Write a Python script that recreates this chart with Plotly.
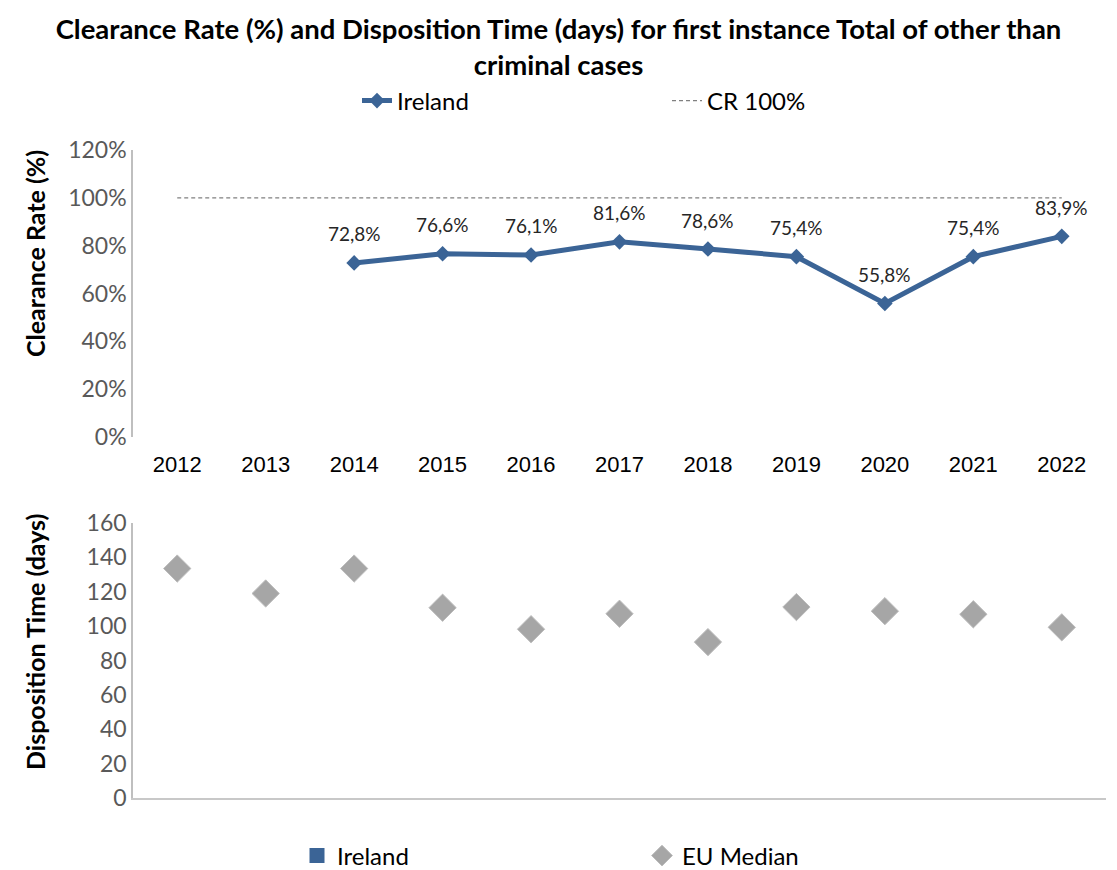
import plotly.graph_objects as go

years = ["2012", "2013", "2014", "2015", "2016", "2017", "2018", "2019", "2020", "2021", "2022"]
ireland_cr = [None, None, 0.728, 0.766, 0.761, 0.816, 0.786, 0.754, 0.558, 0.754, 0.839]
ireland_cr_labels = ["", "", "72,8%", "76,6%", "76,1%", "81,6%", "78,6%", "75,4%", "55,8%", "75,4%", "83,9%"]
cr_100 = [1.0] * 11
eu_median_dt = [133.5, 119, 133.5, 110.7, 98.2, 107.2, 90.7, 111.1, 108.7, 106.9, 99.3]

# page body adds an 8px offset; figure coordinates are target pixels minus 8
OFF = 8
W, H = 1117 - OFF, 870 - OFF
ML, MR = 133 - OFF, 11
MT = 150 - OFF
MB = H - (798 - OFF)
PH = H - MT - MB
PW = W - ML - MR

def py(p):
    return (H - MB - (p - OFF)) / PH

def px(p):
    return ((p - OFF) - ML) / PW

BLUE = "#3B6496"
GREY = "#A6A6A6"
LBL = "Lato"

fig = go.Figure()

fig.add_trace(go.Scatter(
    x=years, y=ireland_cr, mode="lines+markers", name="Ireland",
    line=dict(color=BLUE, width=5), marker=dict(symbol="diamond", size=12, color=BLUE),
    xaxis="x", yaxis="y", legend="legend",
))
fig.add_trace(go.Scatter(
    x=years, y=cr_100, mode="lines", name="CR 100%",
    line=dict(color="#808080", width=1.2, dash="4px,3px"),
    xaxis="x", yaxis="y", legend="legend",
))
fig.add_trace(go.Scatter(
    x=[None], y=[None], mode="markers", name="Ireland",
    marker=dict(symbol="square", size=15, color=BLUE),
    xaxis="x2", yaxis="y2", legend="legend2",
))
fig.add_trace(go.Scatter(
    x=years, y=eu_median_dt, mode="markers", name="EU Median",
    marker=dict(symbol="diamond", size=21, color=GREY, line=dict(color="#BDBDBD", width=1)),
    xaxis="x2", yaxis="y2", legend="legend2",
))

label_annotations = [
    dict(x=i, y=v, xref="x", yref="y", text=t, showarrow=False, yshift=29,
         xanchor="center", yanchor="middle",
         font=dict(family=LBL, size=19, color="#262626"))
    for i, (v, t) in enumerate(zip(ireland_cr, ireland_cr_labels)) if v is not None
]

axis_common = dict(showgrid=False, zeroline=False, automargin=False)
fig.update_layout(
    width=W, height=H,
    margin=dict(l=ML, r=MR, t=MT, b=MB, autoexpand=False),
    paper_bgcolor="white", plot_bgcolor="white",
    font=dict(family=LBL, color="#262626"),
    title=dict(
        text="Clearance Rate (%) and Disposition Time (days) for first instance Total of other than<br>criminal cases",
        x=(558.5 - OFF) / W, xref="container", xanchor="center",
        y=1 - 31 / H, yref="container", yanchor="middle",
        font=dict(family=LBL, size=27.5, color="#000000", weight="bold"),
    ),
    xaxis=dict(type="category", range=[-0.5, 10.5], anchor="y", showline=False,
               ticks="outside", ticklen=8, tickcolor="rgba(0,0,0,0)",
               tickfont=dict(family="Liberation Sans", size=22, color="#000000"), **axis_common),
    yaxis=dict(domain=[py(437), 1], range=[0, 1.2], dtick=0.2, tickformat=".0%",
               showline=True, linecolor="#BFBFBF", linewidth=1.5, ticks="",
               tickfont=dict(family=LBL, size=23, color="#595959"), **axis_common),
    xaxis2=dict(type="category", range=[-0.5, 10.5], anchor="y2", showline=True,
                linecolor="#C8C8C8", linewidth=2, showticklabels=False, ticks="", **axis_common),
    yaxis2=dict(domain=[0, py(523)], range=[0, 160], dtick=20, anchor="x2",
                showline=True, linecolor="#BFBFBF", linewidth=1.5, ticks="",
                tickfont=dict(family=LBL, size=23, color="#595959"), **axis_common),
    legend=dict(orientation="h", x=349 / W, xref="container", xanchor="left",
                y=1 - 93 / H, yref="container", yanchor="middle",
                font=dict(family=LBL, size=24, color="#000000"),
                entrywidth=265, entrywidthmode="pixels", bgcolor="rgba(0,0,0,0)"),
    legend2=dict(orientation="h", x=289 / W, xref="container", xanchor="left",
                 y=1 - 848 / H, yref="container", yanchor="middle",
                 font=dict(family=LBL, size=24, color="#000000"),
                 entrywidth=300, entrywidthmode="pixels", bgcolor="rgba(0,0,0,0)"),
    showlegend=True,
    annotations=label_annotations + [
        dict(text="<b>Clearance Rate (%)</b>", textangle=-90, x=px(35), y=py(254),
             xref="paper", yref="paper", showarrow=False, xanchor="center", yanchor="middle",
             font=dict(family=LBL, size=25, color="#000000")),
        dict(text="<b>Disposition Time (days)</b>", textangle=-90, x=px(35), y=py(642),
             xref="paper", yref="paper", showarrow=False, xanchor="center", yanchor="middle",
             font=dict(family=LBL, size=25, color="#000000")),
    ],
)

fig.write_html("out.html")
